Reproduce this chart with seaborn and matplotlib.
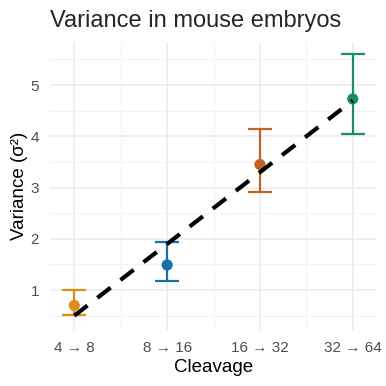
import numpy as np
import pandas as pd
import matplotlib
matplotlib.use("Agg")
import matplotlib.pyplot as plt
import seaborn as sns

# values
cleavages = ["4 \u2192 8", "8 \u2192 16", "16 \u2192 32", "32 \u2192 64"]
variance = [0.70, 1.49, 3.45, 4.73]
err_low = [0.51, 1.18, 2.91, 4.05]
err_high = [1.01, 1.93, 4.15, 5.60]
fit_line = [0.50, 1.90, 3.30, 4.70]
colors = ["#DC901A", "#1A6FA8", "#BF6427", "#1B8C70"]

sns.set_theme(style="whitegrid")
plt.rcParams["font.family"] = ["Liberation Sans", "DejaVu Sans"]

df = pd.DataFrame({"pos": np.arange(len(cleavages)), "cleavage": cleavages,
                   "variance": variance, "lo": err_low, "hi": err_high,
                   "fit": fit_line})

fig = plt.figure(figsize=(3.86, 3.86), dpi=100)
ax = fig.add_axes([0.13, 0.145, 0.844, 0.746])

for i, row in df.iterrows():
    ax.errorbar(row["pos"], row["variance"],
                yerr=[[row["variance"] - row["lo"]], [row["hi"] - row["variance"]]],
                fmt="none", ecolor=colors[i], elinewidth=1.6, capsize=8.5,
                capthick=1.6, zorder=2)

sns.scatterplot(data=df, x="pos", y="variance", hue="cleavage",
                palette=colors, s=65, edgecolor="none", legend=False,
                ax=ax, zorder=3)
sns.lineplot(data=df, x="pos", y="fit", color="black", linewidth=3,
             ax=ax, zorder=4, dashes=False)
ax.lines[-1].set_dashes([4, 3])

ax.set_xlim(-0.26, 3.25)
ax.set_ylim(0.22, 5.84)
ax.set_xticks(df["pos"])
ax.set_xticklabels(cleavages)
ax.set_yticks([1, 2, 3, 4, 5])
ax.set_xticks([0.5, 1.5, 2.5], minor=True)
ax.set_yticks([0.5, 1.5, 2.5, 3.5, 4.5, 5.5], minor=True)
ax.grid(which="major", color="#EBEBEB", linewidth=1.1)
ax.grid(which="minor", color="#F2F2F2", linewidth=0.7)
ax.set_axisbelow(True)
for s in ax.spines.values():
    s.set_visible(False)
ax.tick_params(axis="both", which="both", length=0, labelsize=11,
               labelcolor="#4D4D4D", pad=8)

ax.set_xlabel("Cleavage", fontsize=13.5, color="black", labelpad=3)
ax.set_ylabel("Variance (\u03c3\u00b2)", fontsize=13.5, color="black", labelpad=2)
ax.set_title("Variance in mouse embryos", fontsize=17, loc="left", pad=11)

fig.savefig("out.png", dpi=100, facecolor="white")
